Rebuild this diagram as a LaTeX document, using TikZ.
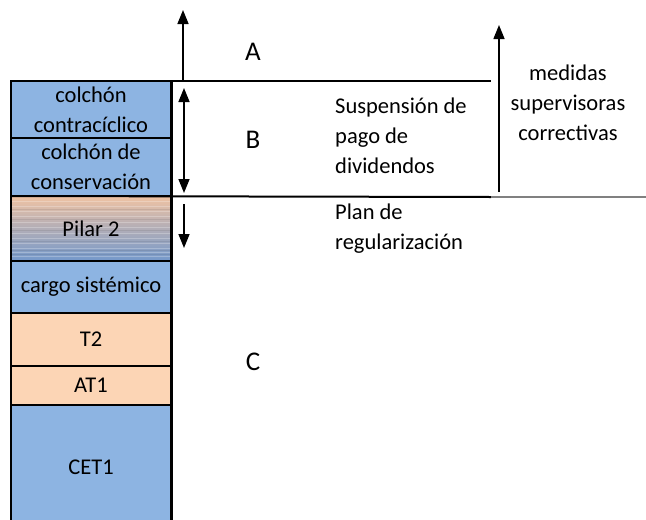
\documentclass[tikz,border=0pt]{standalone}
\usepackage{fontspec}
\setmainfont{Carlito}
\usetikzlibrary{positioning,arrows.meta}
\definecolor{capblue}{HTML}{8DB4E2}
\definecolor{cappeach}{HTML}{FCD5B5}
\definecolor{piltop}{HTML}{F0C3A3}
\definecolor{pilgray}{HTML}{B8ACAA}
\definecolor{pilblue}{HTML}{7398CB}

\begin{document}
\begin{tikzpicture}
            [%%%%%%%%%%%%%%%%%%%%%%%%%%%%%%%%%%%%%%%%%%%%%%%%%%%%%%%%%%
                x=1pt,y=-1pt,>={Triangle[width=11pt,length=14pt]},
                font=\fontsize{22.5}{30}\selectfont,
                layer/.style={draw=black,line width=2pt,minimum width=160pt,
                              align=center,inner sep=0pt,outer sep=0pt},
                bluelayer/.style={layer,fill=capblue},
                peachlayer/.style={layer,fill=cappeach},
                lvl/.style={line width=2pt},
                arr/.style={line width=1.5pt},
                zone/.style={font=\fontsize{27}{30}\selectfont},
                note/.style={align=left,anchor=north west,inner sep=0pt}
            ]%%%%%%%%%%%%%%%%%%%%%%%%%%%%%%%%%%%%%%%%%%%%%%%%%%%%%%%%%%
            \useasboundingbox (0,0) rectangle (646,520);
            \clip (0,0) rectangle (646,520);

            % capital stack
            \node[bluelayer,minimum height=57pt] (cc) at (91,109.5) {colchón\\contracíclico};
            \node[bluelayer,minimum height=58pt] (cons) [below=0pt of cc] {colchón de\\conservación};
            \node[layer,minimum height=65pt,top color=piltop,middle color=pilgray,
                  bottom color=pilblue] (p2) [below=0pt of cons] {};
            \foreach \yy in {201,206,211,216,222,227,233,238,243,248,252,256}
                \draw[white,opacity=.25,line width=.7pt] (12,\yy) -- (170,\yy);
            \foreach \yy in {209,219,230,241,250,254}
                \draw[black,opacity=.08,line width=.6pt] (12,\yy) -- (170,\yy);
            \node (p2txt) at (p2) {Pilar 2};
            \node[bluelayer,minimum height=52pt] (cs) [below=0pt of p2] {cargo sistémico};
            \node[peachlayer,minimum height=53pt] (t2) [below=0pt of cs] {T2};
            \node[peachlayer,minimum height=39pt] (at1) [below=0pt of t2] {AT1};
            \node[bluelayer,minimum height=125pt] (cet1) [below=0pt of at1] {CET1};
            \draw[line width=3pt] (cc.north east) -- (cet1.south east);

            % thresholds
            \coordinate (topend) at (491,81);
            \coordinate (midend) at (491,197);
            \coordinate (rim) at (646,197);
            \draw[lvl] (cc.north west) -- (topend);
            \draw[lvl] (cons.south west) -- (midend);
            \draw[lvl,gray] (midend) -- (rim);

            % arrows
            \coordinate (aBase) at (183,81);
            \coordinate (aTip) at (183,10);
            \coordinate (bTop) at (184,88);
            \coordinate (bBot) at (184,193);
            \coordinate (pTop) at (184,204);
            \coordinate (pBot) at (184,248);
            \coordinate (mBase) at (499,192);
            \coordinate (mTip) at (499,25);
            \draw[arr,->] (aBase) -- (aTip);
            \draw[arr,<->] (bTop) -- (bBot);
            \draw[arr,->] (pTop) -- (pBot);
            \draw[arr,->] (mBase) -- (mTip);

            % labels
            \node[zone] (A) at (253,52) {A};
            \node[zone] (B) at (253,140) {B};
            \node[zone] (C) at (253,362) {C};
            \node[note] (susp) at (335,98) {Suspensión de\\pago de\\dividendos};
            \node[note] (plan) at (335,204) {Plan de\\regularización};
            \node[note,align=center,anchor=north] (medidas) at (568,65) {medidas\\supervisoras\\correctivas};
        \end{tikzpicture}
\end{document}
